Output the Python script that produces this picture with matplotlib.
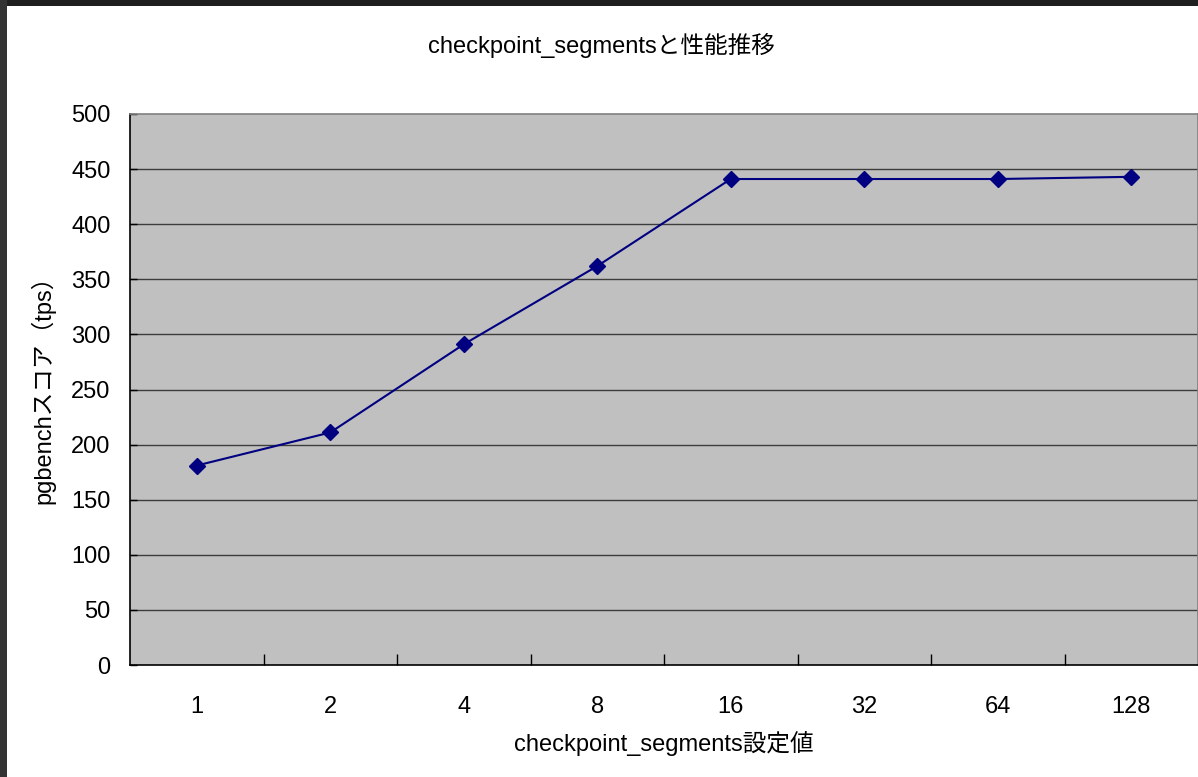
import matplotlib.pyplot as plt
from matplotlib.patches import Rectangle

plt.rcParams['font.family'] = ['Liberation Sans', 'Noto Sans CJK JP', 'DejaVu Sans']

segments = ['1', '2', '4', '8', '16', '32', '64', '128']
tps = [181, 211, 291, 362, 441, 441, 441, 443]

fig = plt.figure(figsize=(11.98, 7.77), dpi=100)
fig.patch.set_facecolor('white')

# dark window frame along the top and left edges
fig.add_artist(Rectangle((0, 1 - 6 / 777), 1, 6 / 777, transform=fig.transFigure,
                         facecolor='#1f1f1f', edgecolor='none'))
fig.add_artist(Rectangle((0, 0), 7 / 1198, 1, transform=fig.transFigure,
                         facecolor='#333333', edgecolor='none'))

ax = fig.add_axes([130 / 1198, 112 / 777, 1068 / 1198, 551 / 777])
ax.set_facecolor('#c0c0c0')

x = list(range(len(segments)))
ax.plot(x, tps, color='#000080', lw=1.5, marker='D', markersize=8,
        markerfacecolor='#000080', markeredgecolor='#000080')

ax.set_xlim(-0.5, len(segments) - 0.5)
ax.set_ylim(0, 500)
ax.set_yticks(range(0, 501, 50))
for v in range(50, 500, 50):
    ax.axhline(v, color='#3c3c3c', lw=1, zorder=0.5)

# category boundaries carry the tick marks, labels sit between them
ax.set_xticks([i + 0.5 for i in range(len(segments) - 1)])
ax.set_xticklabels([])
ax.set_xticks(x, minor=True)
ax.set_xticklabels(segments, minor=True)
ax.tick_params(axis='x', which='major', direction='in', length=8, width=1, color='black')
ax.tick_params(axis='x', which='minor', length=0, pad=22, labelsize=17)
ax.tick_params(axis='y', direction='in', length=5, width=1, pad=14, labelsize=17)

for side in ['left', 'bottom']:
    ax.spines[side].set_color('black')
    ax.spines[side].set_linewidth(1.2)
for side in ['top', 'right']:
    ax.spines[side].set_color('#808080')
    ax.spines[side].set_linewidth(1.2)

ax.set_xlabel('checkpoint_segments設定値', fontsize=17)
ax.xaxis.set_label_coords(0.5, (665 - 731) / 551)
ax.set_ylabel('pgbenchスコア（tps）', fontsize=17)
ax.yaxis.set_label_coords((55 - 130) / 1068, 0.51)

fig.text(601 / 1198, 1 - 45 / 777, 'checkpoint_segmentsと性能推移',
         ha='center', va='center', fontsize=17)

fig.savefig('out.png', dpi=100)
